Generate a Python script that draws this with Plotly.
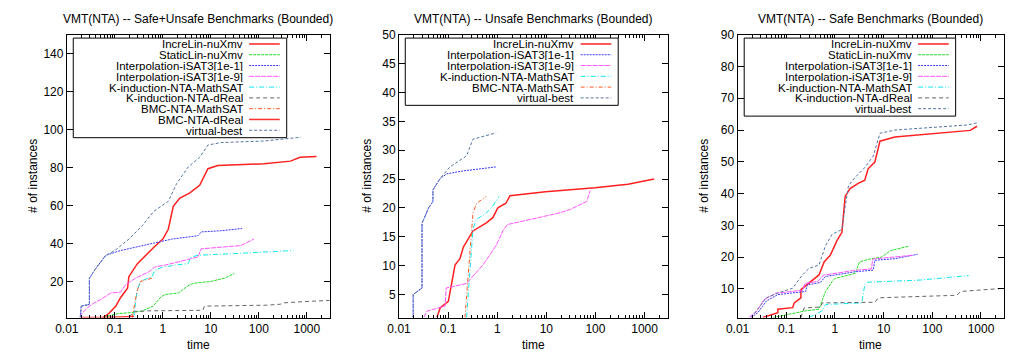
import plotly.graph_objects as go

# ---------------- data (time in s, # of instances) ----------------
# Panel 1: Safe+Unsafe
p1_increlin_t = [0.056, 0.075, 0.105, 0.13, 0.184, 0.196, 0.295, 0.434, 0.65, 1.0, 1.3, 1.65, 2.26, 3.6, 5.85, 8.7, 14, 128, 457, 720, 1590]
p1_increlin_n = [1, 3.1, 7.0, 11.3, 16.5, 22.5, 29.4, 33.8, 38, 42.3, 47.5, 59.6, 63.9, 66.5, 70.7, 79.4, 81.1, 82, 83.4, 85.4, 85.9]
p1_staticlin_t = [0.06, 0.075, 0.12, 0.23, 0.37, 0.63, 0.87, 1.1, 2.1, 2.66, 3.6, 4.6, 10, 19, 28, 31]
p1_staticlin_n = [1, 1.9, 3.1, 3.6, 4.5, 7, 11.3, 13.1, 13.9, 15.7, 18.3, 19.1, 20, 21.7, 23.7, 24.2]
p1_interp1_t = [0.019, 0.02, 0.0295, 0.0295, 0.040, 0.051, 0.065, 0.132, 0.27, 0.47, 1.0, 1.53, 5.4, 6.3, 16, 45]
p1_interp1_n = [1, 7.0, 7.9, 21.7, 26.8, 30.3, 33.8, 36.3, 38, 39.7, 41.5, 42.3, 44.1, 46.1, 46.7, 47.9]
p1_interp9_t = [0.019, 0.02, 0.027, 0.037, 0.051, 0.082, 0.132, 0.168, 0.27, 0.51, 0.69, 1.11, 2.1, 5.4, 6.3, 16, 42, 79]
p1_interp9_n = [1, 2.8, 6.2, 8.7, 10.5, 13.9, 14.4, 18.3, 21.7, 25.1, 27.7, 28.6, 30.3, 32.9, 37.2, 38, 38.9, 42.3]
p1_kimath_t = [0.24, 0.25, 0.29, 0.34, 0.40, 0.59, 0.69, 0.95, 1.8, 3.37, 3.9, 5.4, 26, 525]
p1_kimath_n = [1, 1.9, 14.8, 20, 20.8, 22.5, 26, 27.4, 28.6, 29.4, 32.9, 33.8, 34.6, 36.3]
p1_kidreal_t = [0.2, 0.24, 0.5, 1.5, 6.8, 7.4, 30, 150, 280, 320, 900, 3000]
p1_kidreal_n = [1, 4, 4.5, 4.6, 4.8, 7, 7.2, 7.5, 8.0, 8.7, 9.4, 10]
p1_bmcmath_t = [0.23, 0.29, 0.34, 0.65]
p1_bmcmath_n = [1, 14.8, 20, 22]
p1_bmcdreal_t = [0.02, 0.06, 0.25]
p1_bmcdreal_n = [1, 1, 1.5]
p1_vbest_t = [0.019, 0.02, 0.0295, 0.0295, 0.040, 0.051, 0.065, 0.10, 0.196, 0.37, 0.65, 1.30, 1.94, 3.37, 5.85, 8.7, 16.4, 128, 750]
p1_vbest_n = [1, 7.0, 7.9, 21.7, 26.8, 30.3, 33.8, 36.3, 42.3, 49.3, 57, 62.2, 71.6, 80.3, 85.4, 91.9, 93.2, 94, 96]

# Panel 2: Unsafe
p2_increlin_t = [0.059, 0.069, 0.101, 0.118, 0.138, 0.174, 0.204, 0.32, 0.60, 0.81, 1.03, 1.5, 1.82, 9.6, 98, 460, 1570]
p2_increlin_n = [1, 2.7, 3.8, 7.2, 10.1, 11.2, 13.2, 16.0, 17.4, 18.3, 20.0, 20.8, 22.1, 22.8, 23.5, 24.1, 25.0]
p2_interp1_t = [0.0194, 0.0194, 0.0294, 0.0294, 0.0318, 0.040, 0.049, 0.049, 0.059, 0.069, 0.094, 0.20, 0.95]
p2_interp1_n = [1, 5.0, 6.1, 17.4, 18.0, 20.0, 21.1, 23.1, 24.2, 25.1, 25.9, 26.4, 27.1]
p2_interp9_t = [0.032, 0.037, 0.087, 0.091, 0.237, 0.51, 0.95, 1.3, 1.6, 18, 30, 66, 78]
p2_interp9_n = [1, 2.1, 3.0, 6.1, 6.9, 10.1, 13.5, 16.0, 17.1, 19.1, 19.7, 21.1, 23.0]
p2_kimath_t = [0.237, 0.32, 0.376, 0.60, 0.81, 1.1]
p2_kimath_n = [1, 16.3, 18.0, 19.1, 20.3, 22.0]
p2_bmcmath_t = [0.22, 0.32, 0.38, 0.60]
p2_bmcmath_n = [1, 19.1, 20.8, 22.0]
p2_vbest_t = [0.0194, 0.0194, 0.0294, 0.0294, 0.0318, 0.040, 0.049, 0.049, 0.059, 0.069, 0.109, 0.237, 0.32, 0.95]
p2_vbest_n = [1, 5.0, 6.1, 17.4, 18.0, 20.0, 21.1, 23.1, 24.2, 25.1, 27.1, 29.0, 31.9, 33.0]

# Panel 3: Safe
p3_increlin_t = [0.033, 0.067, 0.067, 0.135, 0.146, 0.2, 0.2, 0.35, 0.47, 0.6, 0.8, 1.1, 1.39, 1.62, 2.05, 3.0, 4.1, 4.8, 6.6, 8.4, 17, 600, 830]
p3_increlin_n = [1, 2.5, 3.6, 4.1, 5.6, 7.2, 9.8, 12.8, 14.4, 18.5, 20.6, 25.2, 27.8, 39.1, 41.6, 43.2, 44.2, 47.8, 49.9, 56.5, 57.8, 59.9, 61.2]
p3_staticlin_t = [0.053, 0.115, 0.25, 0.47, 0.64, 0.875, 1.0, 1.39, 2.6, 3.2, 4.8, 9, 14, 32]
p3_staticlin_n = [1, 2.0, 3.1, 3.6, 9.2, 12.3, 13.3, 13.8, 14.9, 18.5, 19.3, 20.0, 22.1, 23.4]
p3_interp1_t = [0.019, 0.026, 0.039, 0.067, 0.25, 0.27, 0.5, 0.64, 2.6, 6.1, 6.6, 17, 50]
p3_interp1_n = [1, 2.5, 6.2, 8.2, 9.2, 11.3, 12.0, 13.9, 15.4, 15.9, 19.0, 19.5, 20.9]
p3_interp9_t = [0.017, 0.024, 0.035, 0.06, 0.22, 0.24, 0.45, 0.58, 2.4, 5.6, 6.0, 15, 40]
p3_interp9_n = [1, 2.7, 6.6, 8.6, 9.6, 11.7, 12.4, 14.3, 15.8, 16.3, 19.4, 19.9, 20.6]
p3_kimath_t = [0.295, 0.55, 0.64, 3.55, 4.1, 4.5, 58, 557]
p3_kimath_n = [1, 3.1, 5.1, 5.6, 11.3, 12.1, 12.8, 14.2]
p3_kidreal_t = [0.2, 0.233, 0.5, 0.55, 6.6, 7.8, 320, 380, 3000]
p3_kidreal_n = [1, 4, 4.3, 5.6, 5.8, 7.2, 8.0, 9.2, 10.2]
p3_vbest_t = [0.019, 0.0285, 0.039, 0.067, 0.135, 0.215, 0.295, 0.47, 0.64, 0.875, 1.39, 1.62, 1.9, 2.6, 4.1, 6.1, 8.4, 17, 520, 900]
p3_vbest_n = [1, 4.6, 7.2, 8.7, 10.2, 14.4, 16.5, 17.5, 23.6, 27.2, 28.7, 35.9, 42.5, 45.1, 48.2, 51.8, 59, 60, 61.6, 62.4]

titles = ["VMT(NTA) -- Safe+Unsafe Benchmarks (Bounded)",
          "VMT(NTA) -- Unsafe Benchmarks (Bounded)",
          "VMT(NTA) -- Safe Benchmarks (Bounded)"]
y_max = [150, 50, 90]
y_ticks = [list(range(20, 141, 20)), list(range(5, 51, 5)), list(range(10, 91, 10))]
x_ticks = [0.01, 0.1, 1, 10, 100, 1000]
x_ticklabels = ["0.01", "0.1", "1", "10", "100", "1000"]

# ---------------- styles ----------------
STYLE = {
    "IncreLin-nuXmv": dict(color="#ff2020", width=1.5, dash="solid"),
    "StaticLin-nuXmv": dict(color="#22dd22", width=1.0, dash="3px,1px"),
    "Interpolation-iSAT3[1e-1]": dict(color="#3a3aff", width=1.0, dash="2px,1px"),
    "Interpolation-iSAT3[1e-9]": dict(color="#ff55ff", width=1.0, dash="5px,1px"),
    "K-induction-NTA-MathSAT": dict(color="#11e6ee", width=1.0, dash="5px,2px,1px,2px"),
    "K-induction-NTA-dReal": dict(color="#666666", width=1.0, dash="4px,3px"),
    "BMC-NTA-MathSAT": dict(color="#ff5a20", width=1.0, dash="4px,2px,1px,2px"),
    "BMC-NTA-dReal": dict(color="#ff3030", width=1.5, dash="solid"),
    "virtual-best": dict(color="#5575a5", width=1.0, dash="3px,2px"),
}

panels = [
    [("IncreLin-nuXmv", p1_increlin_t, p1_increlin_n),
     ("StaticLin-nuXmv", p1_staticlin_t, p1_staticlin_n),
     ("Interpolation-iSAT3[1e-1]", p1_interp1_t, p1_interp1_n),
     ("Interpolation-iSAT3[1e-9]", p1_interp9_t, p1_interp9_n),
     ("K-induction-NTA-MathSAT", p1_kimath_t, p1_kimath_n),
     ("K-induction-NTA-dReal", p1_kidreal_t, p1_kidreal_n),
     ("BMC-NTA-MathSAT", p1_bmcmath_t, p1_bmcmath_n),
     ("BMC-NTA-dReal", p1_bmcdreal_t, p1_bmcdreal_n),
     ("virtual-best", p1_vbest_t, p1_vbest_n)],
    [("IncreLin-nuXmv", p2_increlin_t, p2_increlin_n),
     ("Interpolation-iSAT3[1e-1]", p2_interp1_t, p2_interp1_n),
     ("Interpolation-iSAT3[1e-9]", p2_interp9_t, p2_interp9_n),
     ("K-induction-NTA-MathSAT", p2_kimath_t, p2_kimath_n),
     ("BMC-NTA-MathSAT", p2_bmcmath_t, p2_bmcmath_n),
     ("virtual-best", p2_vbest_t, p2_vbest_n)],
    [("IncreLin-nuXmv", p3_increlin_t, p3_increlin_n),
     ("StaticLin-nuXmv", p3_staticlin_t, p3_staticlin_n),
     ("Interpolation-iSAT3[1e-1]", p3_interp1_t, p3_interp1_n),
     ("Interpolation-iSAT3[1e-9]", p3_interp9_t, p3_interp9_n),
     ("K-induction-NTA-MathSAT", p3_kimath_t, p3_kimath_n),
     ("K-induction-NTA-dReal", p3_kidreal_t, p3_kidreal_n),
     ("virtual-best", p3_vbest_t, p3_vbest_n)],
]

# ---------------- layout geometry (pixels in 1010x358) ----------------
W, H = 1010, 358
plot_left = [55.5, 391.7, 734.3]
plot_right = [321.7, 664.0, 1004.3]
plot_top, plot_bottom = 28.3, 316.7
ytitle_x = [21, 359, 700]
leg_box = [(62, 278), (398, 613.5), (741, 955)]
row0, row_step = 37.7, 11.0

FONT = "Liberation Sans, Arial, Helvetica, sans-serif"

def px(x):
    return x / W

def py(y):
    return 1 - y / H

fig = go.Figure()
minor_vals = [k * 10 ** d for d in range(-2, 4) for k in range(2, 10) if k * 10 ** d < 3000]

annotations = []
shapes = []
for i, series in enumerate(panels):
    xa = "x" if i == 0 else f"x{i+1}"
    ya = "y" if i == 0 else f"y{i+1}"
    for name, t, n in series:
        st = STYLE[name]
        fig.add_trace(go.Scatter(x=t, y=n, mode="lines", name=name, showlegend=False,
                                 xaxis=xa, yaxis=ya,
                                 line=dict(color=st["color"], width=st["width"], dash=st["dash"])))
    axis_common = dict(showline=True, linecolor="black", linewidth=1, mirror="ticks",
                       ticks="inside", tickcolor="black", showgrid=False, zeroline=False,
                       tickfont=dict(family=FONT, size=12, color="black"))
    xkey = "xaxis" if i == 0 else f"xaxis{i+1}"
    ykey = "yaxis" if i == 0 else f"yaxis{i+1}"
    fig.update_layout({
        xkey: dict(axis_common, type="log", range=[-2, 3.48], anchor=ya,
                   domain=[px(plot_left[i]), px(plot_right[i])],
                   tickmode="array", tickvals=x_ticks, ticktext=x_ticklabels, ticklen=6,
                   minor=dict(tickmode="array", tickvals=minor_vals, ticks="inside",
                              ticklen=3, tickcolor="black", showgrid=False)),
        ykey: dict(axis_common, range=[1, y_max[i]], anchor=xa,
                   domain=[py(plot_bottom), py(plot_top)],
                   tickmode="array", tickvals=y_ticks[i], ticklen=6),
    })
    cx = (plot_left[i] + plot_right[i]) / 2
    annotations.append(dict(text=titles[i], x=px(cx), y=py(12), xref="paper", yref="paper",
                            xanchor="center", yanchor="middle", showarrow=False,
                            font=dict(family=FONT, size=12, color="black")))
    annotations.append(dict(text="time", x=px(cx), y=py(345), xref="paper", yref="paper",
                            xanchor="center", yanchor="middle", showarrow=False,
                            font=dict(family=FONT, size=12, color="black")))
    annotations.append(dict(text="# of instances", x=px(ytitle_x[i]), y=py((plot_top + plot_bottom) / 2),
                            xref="paper", yref="paper", textangle=-90,
                            xanchor="center", yanchor="middle", showarrow=False,
                            font=dict(family=FONT, size=12, color="black")))
    # legend (gnuplot style: label right-aligned, sample on the right)
    bl, br = leg_box[i]
    nrow = len(series)
    btop = 31.7
    bbot = row0 + (nrow - 1) * row_step + 7.6
    shapes.append(dict(type="rect", xref="paper", yref="paper", x0=px(bl), x1=px(br),
                       y0=py(bbot), y1=py(btop), line=dict(color="black", width=1),
                       fillcolor="white", layer="above"))
    for r, (name, _, _) in enumerate(series):
        yy = row0 + r * row_step
        st = STYLE[name]
        annotations.append(dict(text=name, x=px(br - 43.5), y=py(yy), xref="paper", yref="paper",
                                xanchor="right", yanchor="middle", showarrow=False,
                                borderpad=0, height=11, valign="middle",
                                font=dict(family=FONT, size=11.5, color="black")))
        shapes.append(dict(type="line", xref="paper", yref="paper", x0=px(br - 38), x1=px(br - 7),
                           y0=py(yy), y1=py(yy), layer="above",
                           line=dict(color=st["color"], width=st["width"], dash=st["dash"])))

fig.update_layout(width=W, height=H, margin=dict(l=0, r=0, t=0, b=0),
                  paper_bgcolor="white", plot_bgcolor="white",
                  annotations=annotations, shapes=shapes, showlegend=False)

fig.write_html("out.html")
